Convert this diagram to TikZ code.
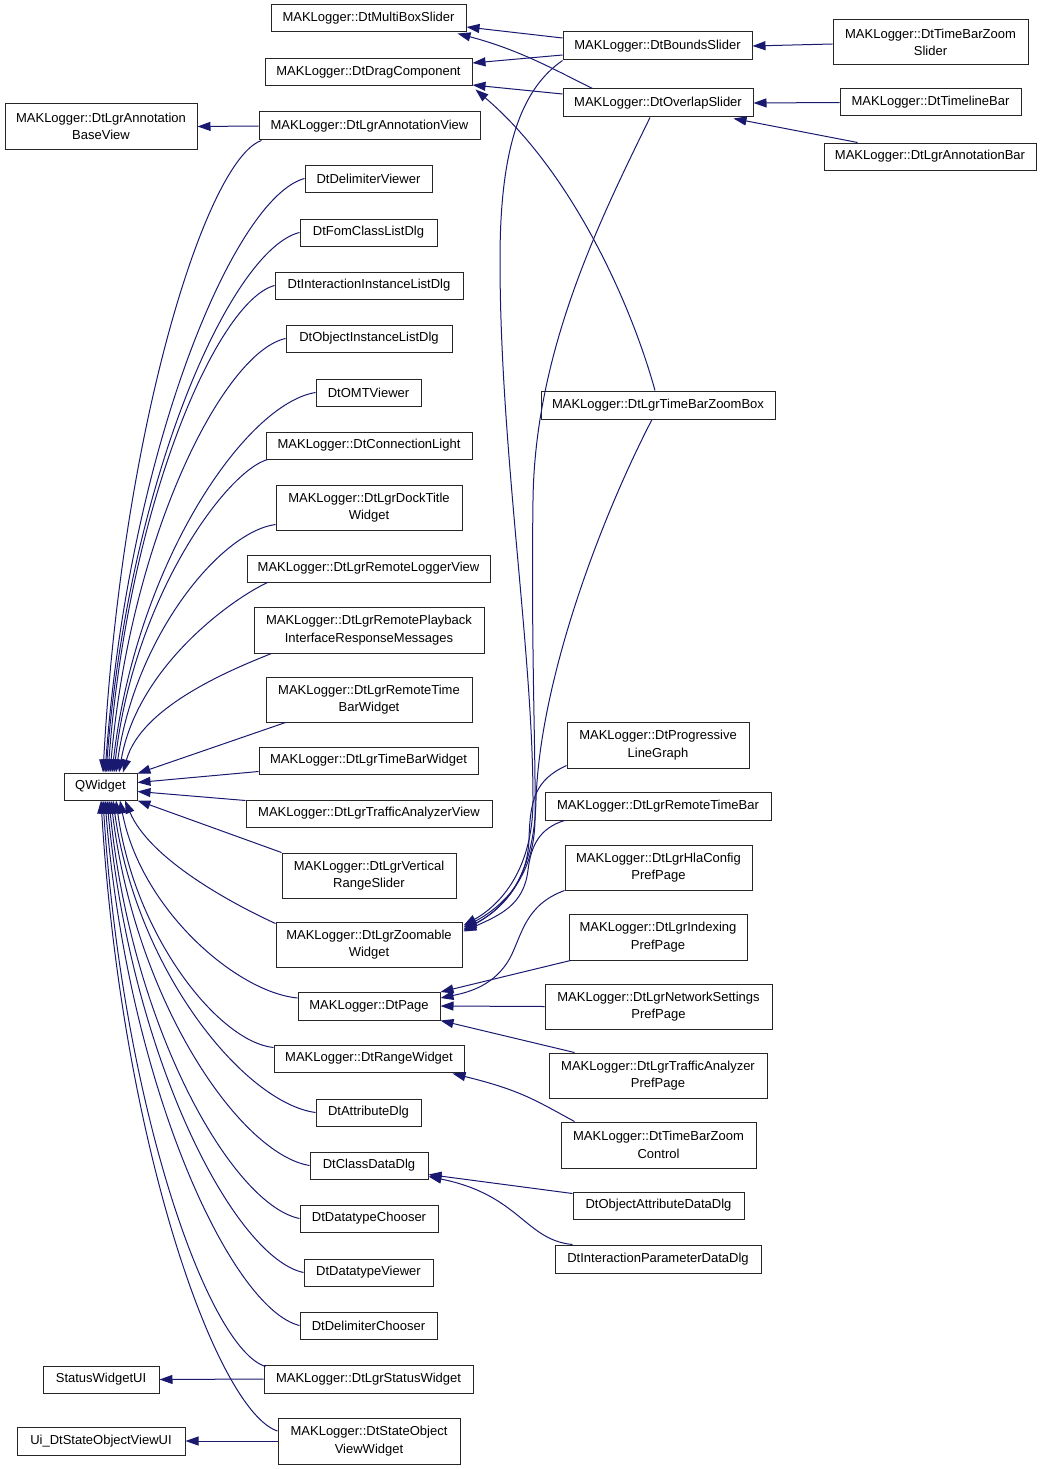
\documentclass[tikz,border=0pt]{standalone}
\usepackage{fontspec}
\setmainfont{Liberation Sans}
\usetikzlibrary{arrows.meta,calc}
\definecolor{edgeblue}{RGB}{25,25,112}
\begin{document}
\begin{tikzpicture}[x=1pt,y=-1pt,
  box/.style={draw=black!85, line width=1pt, fill=white, align=center, inner sep=0pt,
    font=\fontsize{13}{17.5}\selectfont, minimum height=27pt},
  two/.style={minimum height=45pt},
  edge/.style={draw=edgeblue, line width=1pt, -{Triangle[length=13pt,width=9pt]}, color=edgeblue}]
\useasboundingbox (0,0) rectangle (1043,1469);
% column 1
\node[box,two,minimum width=192pt] (abv) at (101,126.5) {MAKLogger::DtLgrAnnotation\\BaseView};
\node[box,minimum width=73pt] (qw) at (100.5,786.5) {QWidget};
\node[box,minimum width=116pt] (swui) at (101,1379.5) {StatusWidgetUI};
\node[box,minimum width=168pt,minimum height=28pt] (uiso) at (101,1441) {Ui\_DtStateObjectViewUI};
% column 2
\node[box,minimum width=195pt] (mbs) at (368.5,18.5) {MAKLogger::DtMultiBoxSlider};
\node[box,minimum width=207pt] (dc) at (368.5,72.5) {MAKLogger::DtDragComponent};
\node[box,minimum width=221pt,minimum height=28pt] (av) at (369.5,126) {MAKLogger::DtLgrAnnotationView};
\node[box,minimum width=127pt] (dv) at (368.5,178.5) {DtDelimiterViewer};
\node[box,minimum width=137pt] (fcl) at (368.5,232.5) {DtFomClassListDlg};
\node[box,minimum width=188pt] (iil) at (369,285.5) {DtInteractionInstanceListDlg};
\node[box,minimum width=166pt] (oil) at (369,338.5) {DtObjectInstanceListDlg};
\node[box,minimum width=105pt] (omt) at (368.5,392.5) {DtOMTViewer};
\node[box,minimum width=206pt] (cl) at (369,445.5) {MAKLogger::DtConnectionLight};
\node[box,two,minimum width=186pt] (dt) at (369,507.5) {MAKLogger::DtLgrDockTitle\\Widget};
\node[box,minimum width=243pt] (rlv) at (368.5,568.5) {MAKLogger::DtLgrRemoteLoggerView};
\node[box,two,minimum width=230pt,minimum height=46pt] (rp) at (369,630) {MAKLogger::DtLgrRemotePlayback\\InterfaceResponseMessages};
\node[box,two,minimum width=206pt] (rtw) at (369,699.5) {MAKLogger::DtLgrRemoteTime\\BarWidget};
\node[box,minimum width=219pt] (tbw) at (368.5,760.5) {MAKLogger::DtLgrTimeBarWidget};
\node[box,minimum width=246pt] (tav) at (369,813.5) {MAKLogger::DtLgrTrafficAnalyzerView};
\node[box,two,minimum width=174pt] (vrs) at (369,875.5) {MAKLogger::DtLgrVertical\\RangeSlider};
\node[box,two,minimum width=186pt] (zw) at (369,944.5) {MAKLogger::DtLgrZoomable\\Widget};
\node[box,minimum width=142pt,minimum height=28pt] (pg) at (369,1006) {MAKLogger::DtPage};
\node[box,minimum width=190pt] (rw) at (369,1058.5) {MAKLogger::DtRangeWidget};
\node[box,minimum width=105pt] (ad) at (368.5,1112.5) {DtAttributeDlg};
\node[box,minimum width=118pt] (cdd) at (369,1165.5) {DtClassDataDlg};
\node[box,minimum width=138pt] (dtc) at (369,1218.5) {DtDatatypeChooser};
\node[box,minimum width=129pt] (dtv) at (368.5,1272.5) {DtDatatypeViewer};
\node[box,minimum width=137pt] (dlc) at (368.5,1325.5) {DtDelimiterChooser};
\node[box,minimum width=209pt,minimum height=28pt] (sw) at (368.5,1379) {MAKLogger::DtLgrStatusWidget};
\node[box,two,minimum width=182pt,minimum height=46pt] (sov) at (369,1441) {MAKLogger::DtStateObject\\ViewWidget};
% column 3
\node[box,minimum width=189pt,minimum height=28pt] (bs) at (657.5,46) {MAKLogger::DtBoundsSlider};
\node[box,minimum width=190pt,minimum height=28pt] (os) at (658,103) {MAKLogger::DtOverlapSlider};
\node[box,minimum width=234pt,minimum height=28pt] (zb) at (658,405) {MAKLogger::DtLgrTimeBarZoomBox};
\node[box,two,minimum width=182pt,minimum height=46pt] (plg) at (658,745) {MAKLogger::DtProgressive\\LineGraph};
\node[box,minimum width=226pt,minimum height=28pt] (rtb) at (658,806) {MAKLogger::DtLgrRemoteTimeBar};
\node[box,two,minimum width=187pt] (hla) at (658.5,867.5) {MAKLogger::DtLgrHlaConfig\\PrefPage};
\node[box,two,minimum width=178pt,minimum height=46pt] (idx) at (658,937) {MAKLogger::DtLgrIndexing\\PrefPage};
\node[box,two,minimum width=227pt] (nss) at (658.5,1006.5) {MAKLogger::DtLgrNetworkSettings\\PrefPage};
\node[box,two,minimum width=218pt] (tap) at (658,1075.5) {MAKLogger::DtLgrTrafficAnalyzer\\PrefPage};
\node[box,two,minimum width=195pt,minimum height=46pt] (tzc) at (658.5,1145) {MAKLogger::DtTimeBarZoom\\Control};
\node[box,minimum width=171pt] (oad) at (658.5,1205.5) {DtObjectAttributeDataDlg};
\node[box,minimum width=206pt,minimum height=28pt] (ipd) at (658,1259) {DtInteractionParameterDataDlg};
% column 4
\node[box,two,minimum width=195pt] (tzs) at (930.5,42.5) {MAKLogger::DtTimeBarZoom\\Slider};
\node[box,minimum width=181pt] (tlb) at (930.5,102.5) {MAKLogger::DtTimelineBar};
\node[box,minimum width=212pt] (anb) at (930,156.5) {MAKLogger::DtLgrAnnotationBar};

% ---- edges to QWidget (upper children)
\draw[edge] ($(av.south west)+(3,0)$) .. controls (207,159) and (122,425) .. ($(qw.north)+(2.5,0)$);
\draw[edge] (dv.west) .. controls (235,197) and (129,446) .. ($(qw.north)+(4.5,0)$);
\draw[edge] (fcl.west) .. controls (232,249) and (129,476) .. ($(qw.north)+(5.5,0)$);
\draw[edge] (iil.west) .. controls (217,301) and (128,505) .. ($(qw.north)+(7.5,0)$);
\draw[edge] (oil.west) .. controls (224,352) and (131,534) .. ($(qw.north)+(9.5,0)$);
\draw[edge] (omt.west) .. controls (245,404) and (136,564) .. ($(qw.north)+(11.5,0)$);
\draw[edge] ($(cl.south west)+(2,0)$) .. controls (225,472) and (133,600) .. ($(qw.north)+(13.5,0)$);
\draw[edge] ($(dt.west)+(0,17)$) .. controls (220,532) and (135,637) .. ($(qw.north)+(15.5,0)$);
\draw[edge] ($(rlv.south west)+(21,0)$) .. controls (230,600) and (137,668) .. ($(qw.north)+(18.5,0)$);
\draw[edge] ($(rp.south west)+(18,0)$) .. controls (230,670) and (141,707) .. ($(qw.north)+(22.5,0)$);
\draw[edge] ($(rtw.south west)+(20,0)$) -- ($(qw.north east)+(0,1)$);
\draw[edge] ($(tbw.west)+(0,11)$) -- ($(qw.east)+(0,-4)$);
\draw[edge] ($(tav.west)+(0,-13)$) -- ($(qw.east)+(0,5)$);
\draw[edge] (vrs.north west) -- (qw.south east);
% ---- edges to QWidget (lower children)
\draw[edge] ($(zw.north west)+(0,2)$) .. controls (235,905) and (150,860) .. ($(qw.south)+(24.5,0)$);
\draw[edge] ($(pg.west)+(0,-8)$) .. controls (236,992) and (141,909) .. ($(qw.south)+(19.5,0)$);
\draw[edge] ($(rw.north west)+(0,3)$) .. controls (219,1042) and (135,937) .. ($(qw.south)+(15.5,0)$);
\draw[edge] (ad.west) .. controls (245,1103) and (137,972) .. ($(qw.south)+(12.5,0)$);
\draw[edge] (cdd.west) .. controls (240,1154) and (135,1001) .. ($(qw.south)+(10.5,0)$);
\draw[edge] (dtc.west) .. controls (233,1205) and (132,1030) .. ($(qw.south)+(8.5,0)$);
\draw[edge] (dtv.west) .. controls (235,1258) and (131,1060) .. ($(qw.south)+(6.5,0)$);
\draw[edge] (dlc.west) .. controls (232,1309) and (128,1089) .. ($(qw.south)+(4.5,0)$);
\draw[edge] ($(sw.north west)+(2,2)$) .. controls (209,1349) and (123,1111) .. ($(qw.south)+(2.5,0)$);
\draw[edge] ($(sov.west)+(0,-10)$) .. controls (217,1411) and (122,1146) .. ($(qw.south)+(0.5,0)$);
% ---- other left-side edges
\draw[edge] (av.west) -- (abv.east);
\draw[edge] (sw.west) -- (swui.east);
\draw[edge] (sov.west) -- (uiso.east);
% ---- top right
\draw[edge] ($(bs.west)+(0,-8)$) -- ($(mbs.east)+(0,8.5)$);
\draw[edge] ($(bs.west)+(0,9)$) -- ($(dc.east)+(0,-9.5)$);
\draw[edge] ($(os.west)+(0,-9)$) -- ($(dc.east)+(0,12.5)$);
\draw[edge] ($(os.north west)+(30,0)$) .. controls (555,70) and (520,50) .. ($(mbs.south east)+(-9,1)$);
\draw[edge] ($(zb.north)+(-3,0)$) .. controls (630,300) and (570,170) .. ($(dc.south east)+(3,3)$);
\draw[edge] ($(tzs.west)+(0,1.5)$) -- (bs.east);
\draw[edge] (tlb.west) -- (os.east);
\draw[edge] ($(anb.north west)+(34,0)$) -- ($(os.south east)+(-20,1)$);
% ---- to Zoomable widget
\draw[edge] (bs.south west) .. controls (520,90) and (500,150) .. (500,260)
  .. controls (500,450) and (533,650) .. (533,800)
  .. controls (533,870) and (500,905) .. ($(zw.north east)+(1,4)$);
\draw[edge] ($(os.south)+(-8,0)$) .. controls (600,220) and (535,350) .. (533,500)
  .. controls (531,650) and (536,760) .. (535,820)
  .. controls (534,880) and (500,908) .. ($(zw.north east)+(1,6)$);
\draw[edge] ($(zb.south)+(-6,0)$) .. controls (600,520) and (540,680) .. (536,800)
  .. controls (534,880) and (502,910) .. ($(zw.north east)+(1,8)$);
\draw[edge] ($(plg.south west)+(0,-3)$) .. controls (535,780) and (530,800) .. (529,840)
  .. controls (527,885) and (500,910) .. ($(zw.north east)+(1,9)$);
\draw[edge] ($(rtb.south west)+(20,0)$) .. controls (540,828) and (531,845) .. (528,870)
  .. controls (524,905) and (500,915) .. ($(zw.north east)+(1,10)$);
% ---- to DtPage
\draw[edge] ($(idx.south west)+(2,0)$) -- ($(pg.east)+(0,-14)$);
\draw[edge] (hla.south west) .. controls (525,905) and (522,935) .. (510,958)
  .. controls (495,985) and (470,992) .. ($(pg.east)+(0,-8)$);
\draw[edge] (nss.west) -- (pg.east);
\draw[edge] ($(tap.north west)+(26,0)$) -- (pg.south east);
% ---- range widget, class data
\draw[edge] ($(tzc.north west)+(14,0)$) .. controls (535,1100) and (520,1090) .. ($(rw.south east)+(-12,1)$);
\draw[edge] ($(oad.west)+(0,-12)$) -- ($(cdd.east)+(0,9)$);
\draw[edge] ($(ipd.north west)+(18,0)$) .. controls (525,1240) and (520,1195) .. ($(cdd.east)+(0,11)$);
\end{tikzpicture}
\end{document}
